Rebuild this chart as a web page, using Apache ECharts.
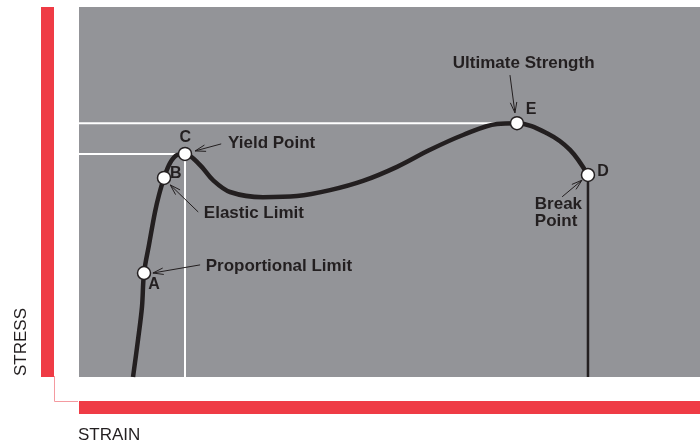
<!DOCTYPE html>
<html>
<head>
<meta charset="utf-8">
<script src="https://cdn.jsdelivr.net/npm/echarts@6/dist/echarts.min.js"></script>
<style>
  html, body { margin: 0; padding: 0; background: #fff; }
  #chart { width: 700px; height: 444px; }
</style>
</head>
<body>
<div id="chart"></div>
<script>
// stress-strain curve (arbitrary units, 0..100 on both axes)
const strain = [8.7, 9.5, 10.14, 10.47, 11.27, 12.24, 12.88, 13.69, 14.65, 15.78, 17.07, 19.48, 21.58, 24.32, 29.63, 35.1, 40.42, 45.73, 51.21, 56.52, 61.84, 67.31, 70.53, 75.36, 79.07, 81.96];
const stress = [0, 10.0, 18.9, 28.1, 35.7, 44.6, 49.2, 53.8, 57.8, 60.0, 60.3, 57.3, 53.2, 50.0, 48.6, 48.9, 50.5, 53.0, 56.8, 61.4, 65.4, 68.4, 68.6, 65.9, 61.4, 54.6];

// marked points on the curve (index into strain / stress)
const keyNames = ['A', 'B', 'C', 'E', 'D'];
const keyIndex = [3, 7, 10, 22, 25];
const letterX = [12.1, 15.6, 17.1, 72.8, 84.4];
const letterY = [25.1, 54.9, 64.6, 72.4, 55.4];

// callout texts and their arrows (tail -> head)
const calloutText = ['Yield Point', 'Elastic Limit', 'Proportional Limit', 'Ultimate Strength', 'Break\nPoint'];
const calloutX = [24.0, 20.1, 20.4, 60.2, 73.4];
const calloutY = [63.2, 44.3, 30.0, 84.9, 44.3];
const arrowFrom = [[22.9, 63.0], [19.2, 44.6], [19.5, 30.3], [69.4, 81.6], [77.8, 48.7]];
const arrowTo = [[18.7, 61.1], [14.7, 51.9], [11.9, 28.1], [70.2, 71.4], [81.0, 53.2]];

const ink = '#231f20';
const red = '#ef3b45';
const boldFont = 'bold 17px "Liberation Sans", Arial, sans-serif';

const curve = strain.map((x, i) => [x, stress[i]]);
const keyPts = keyIndex.map(i => curve[i]);
const C = curve[keyIndex[2]], E = curve[keyIndex[3]], D = curve[keyIndex[4]];

var mychart = echarts.init(document.getElementById('chart'));
var option = {
    animation: false,
    grid: {
        left: 79, right: 0, top: 7, bottom: 67,
        show: true, backgroundColor: '#939498', borderWidth: 0
    },
    xAxis: {
        type: 'value', min: 0, max: 100,
        offset: 30.5,
        axisLine: { show: true, onZero: false, lineStyle: { color: red, width: 13, cap: 'butt' } },
        axisTick: { show: false }, axisLabel: { show: false }, splitLine: { show: false }
    },
    yAxis: {
        type: 'value', min: 0, max: 100,
        offset: 31.5,
        axisLine: { show: true, onZero: false, lineStyle: { color: red, width: 13, cap: 'butt' } },
        axisTick: { show: false }, axisLabel: { show: false }, splitLine: { show: false }
    },
    graphic: [
        // thin pink link between the two red bars
        { type: 'polyline', shape: { points: [[54.5, 376], [54.5, 401.5], [78, 401.5]] },
          style: { stroke: '#f49aa0', lineWidth: 1, fill: null } },
        { type: 'text', x: 21, y: 342, rotation: Math.PI / 2,
          style: { text: 'STRESS', font: '17px "Liberation Sans", Arial, sans-serif', fill: ink, align: 'center', verticalAlign: 'middle' } },
        { type: 'text', x: 78, y: 435,
          style: { text: 'STRAIN', font: '17px "Liberation Sans", Arial, sans-serif', fill: ink, align: 'left', verticalAlign: 'middle' } }
    ],
    series: [
        // white guide lines
        { type: 'line', symbol: 'none', silent: true, z: 1,
          lineStyle: { color: '#fff', width: 2 },
          data: [[0, E[1]], [E[0], E[1]]] },
        { type: 'line', symbol: 'none', silent: true, z: 1,
          lineStyle: { color: '#fff', width: 2 },
          data: [[0, C[1]], [C[0], C[1]], [C[0], 0]] },
        // the curve
        { type: 'line', symbol: 'none', smooth: 0.35, z: 2,
          lineStyle: { color: ink, width: 4.5 },
          data: curve },
        // drop at break point
        { type: 'line', symbol: 'none', z: 2,
          lineStyle: { color: ink, width: 2.5 },
          data: [[D[0], D[1]], [D[0], 0]] },
        // points
        { type: 'scatter', symbol: 'circle', symbolSize: 13, z: 4,
          itemStyle: { color: '#fff', borderColor: ink, borderWidth: 1.5, opacity: 1 },
          data: keyPts },
        // arrows
        { type: 'custom', z: 3,
          encode: { x: [0, 2], y: [1, 3] },
          data: arrowFrom.map((f, i) => [f[0], f[1], arrowTo[i][0], arrowTo[i][1]]),
          renderItem: function (params, api) {
              var a = api.coord([api.value(0), api.value(1)]);
              var b = api.coord([api.value(2), api.value(3)]);
              var ang = Math.atan2(b[1] - a[1], b[0] - a[0]);
              var len = 11, spread = 0.3;
              var h1 = [b[0] - len * Math.cos(ang - spread), b[1] - len * Math.sin(ang - spread)];
              var h2 = [b[0] - len * Math.cos(ang + spread), b[1] - len * Math.sin(ang + spread)];
              return { type: 'group', children: [
                  { type: 'line', shape: { x1: a[0], y1: a[1], x2: b[0], y2: b[1] }, style: { stroke: ink, lineWidth: 1 } },
                  { type: 'polyline', shape: { points: [h1, b, h2] }, style: { stroke: ink, lineWidth: 1, fill: null } }
              ] };
          } },
        // letters
        { type: 'custom', z: 5,
          data: letterX.map((x, i) => [x, letterY[i]]),
          renderItem: function (params, api) {
              var p = api.coord([api.value(0), api.value(1)]);
              return { type: 'text', x: p[0], y: p[1],
                  style: { text: keyNames[params.dataIndex], font: 'bold 16px "Liberation Sans", Arial, sans-serif', fill: ink, align: 'center', verticalAlign: 'middle' } };
          } },
        // callout texts
        { type: 'custom', z: 5,
          data: calloutX.map((x, i) => [x, calloutY[i]]),
          renderItem: function (params, api) {
              var p = api.coord([api.value(0), api.value(1)]);
              return { type: 'text', x: p[0], y: p[1],
                  style: { text: calloutText[params.dataIndex], font: boldFont, lineHeight: 17, fill: ink, align: 'left', verticalAlign: 'middle' } };
          } }
    ]
};
option && mychart.setOption(option);
</script>
</body>
</html>
